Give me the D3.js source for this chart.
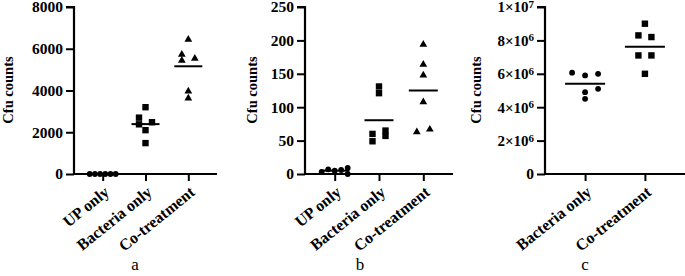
<!DOCTYPE html>
<html>
<head>
<meta charset="utf-8">
<script src="https://cdn.jsdelivr.net/npm/d3@7"></script>
<style>
  html, body { margin: 0; padding: 0; background: #fff; }
  svg text { font-family: "Times New Roman", "Liberation Serif", serif; fill: #000; }
</style>
</head>
<body>
<svg id="chart" width="685" height="276"></svg>
<script>
// Panel a: colony counts
const catsA = ["UP only", "Bacteria only", "Co-treatment"];
const upOnlyA = [0, 0, 0, 0, 0, 0];
const bacteriaA = [3200, 2700, 2480, 2380, 2100, 1480];
const cotreatA = [6480, 5760, 5480, 5570, 4000, 3670];
const ticksA = [0, 2000, 4000, 6000, 8000];

// Panel b
const catsB = ["UP only", "Bacteria only", "Co-treatment"];
const upOnlyB = [3, 7, 5, 6, 9, 0];
const bacteriaB = [131, 121, 60, 49, 65, 57];
const cotreatB = [195, 165, 149, 109, 64, 68];
const ticksB = [0, 50, 100, 150, 200, 250];

// Panel c
const catsC = ["Bacteria only", "Co-treatment"];
const bacteriaC = [6.07e6, 5.9e6, 6.0e6, 4.9e6, 5.1e6, 4.5e6];
const cotreatC = [9.0e6, 8.3e6, 8.2e6, 7.1e6, 7.1e6, 6.0e6];
const ticksC = [0, 2e6, 4e6, 6e6, 8e6, 1e7];

// column index of each point inside its group (scatter-dot spreading)
const lanesUpA = [-2, -1.2, -0.4, 0.4, 1.2, 2];
const lanesBacA = [0, -1, 1, -1, 0, 0];
const lanesCoA = [0, -1, -1, 1, 0, 0];
const lanesUpB = [-2, -1, 0, 1, 2, 2];
const lanesBacB = [0, 0, -1, -1, 1, 1];
const lanesCoB = [0, 0, 0, 0, -1, 1];
const lanesBacC = [-2, 0, 2, 0, 2, 0];
const lanesCoC = [0, -1, 1, -1, 1, 0];

const svg = d3.select("#chart");
const top0 = 7, bottom0 = 174;

function drawPanel(p) {
    const g = svg.append("g");
    const x = d3.scalePoint().domain(p.cats).range([p.left, p.right]).padding(0.67);
    const y = d3.scaleLinear().domain([0, p.max]).range([bottom0, top0]);

    // y axis
    const yAxis = g.append("g")
        .attr("transform", `translate(${p.left},0)`)
        .call(d3.axisLeft(y).tickValues(p.ticks).tickSize(8).tickPadding(3).tickFormat(p.fmt || d3.format("d")));
    yAxis.select(".domain").attr("stroke-width", 2.2).attr("d", `M${-8},${top0}H0V${bottom0}`);
    yAxis.selectAll(".tick line").attr("stroke-width", 2);
    yAxis.selectAll(".tick text")
        .style("font-size", "15.5px").style("font-weight", "bold");

    if (p.sci) {
        yAxis.selectAll(".tick text").each(function(d) {
            const t = d3.select(this).text("");
            if (d === 0) { t.text("0"); return; }
            const e = Math.floor(Math.log10(d) + 1e-9);
            const m = Math.round(d / Math.pow(10, e));
            t.append("tspan").style("font-size", "15px").text(m + "\u00d710");
            t.append("tspan").attr("dy", "-0.4em").style("font-size", "11px").text(e);
        });
    }

    // x axis
    const xAxis = g.append("g")
        .attr("transform", `translate(0,${bottom0})`)
        .call(d3.axisBottom(x).tickSize(7).tickPadding(0));
    xAxis.select(".domain").attr("stroke-width", 2.2).attr("d", `M${p.left},0H${p.right}`);
    xAxis.selectAll(".tick line").attr("stroke-width", 2);
    xAxis.selectAll(".tick text")
        .attr("text-anchor", "end")
        .attr("transform", "translate(7,20) rotate(-39)")
        .attr("y", 0).attr("dy", 0)
        .style("font-size", "16px").style("font-weight", "bold");

    // y label
    g.append("text")
        .attr("transform", `translate(${p.ylabX},90) rotate(-90)`)
        .attr("text-anchor", "middle")
        .style("font-size", "14.5px").style("font-weight", "bold")
        .text("Cfu counts");

    // panel letter
    g.append("text")
        .attr("x", p.letterX).attr("y", 270)
        .attr("text-anchor", "middle")
        .style("font-size", "17px")
        .text(p.letter);

    const unit = 6.5;
    p.groups.forEach(grp => {
        const cx = x(grp.cat);
        const pts = grp.values.map((v, i) => ({ v, lane: grp.lanes[i] }));
        const gg = g.append("g");
        pts.forEach(d => {
            const px = cx + d.lane * unit, py = y(d.v);
            if (grp.shape === "circle") {
                gg.append("circle").attr("cx", px).attr("cy", py).attr("r", 2.9).attr("fill", "#000");
            } else if (grp.shape === "square") {
                gg.append("rect").attr("x", px - 3.2).attr("y", py - 3.2).attr("width", 6.4).attr("height", 6.4).attr("fill", "#000");
            } else {
                gg.append("path")
                    .attr("d", d3.symbol().type(d3.symbolTriangle).size(26)())
                    .attr("transform", `translate(${px},${py + 0.8})`)
                    .attr("fill", "#000");
            }
        });
        const mean = d3.mean(grp.values);
        gg.append("line")
            .attr("x1", cx - p.meanHalf).attr("x2", cx + p.meanHalf)
            .attr("y1", y(mean)).attr("y2", y(mean))
            .attr("stroke", "#000").attr("stroke-width", 2);
    });
}

drawPanel({
    left: 74, right: 217, max: 8000, ticks: ticksA, cats: catsA,
    ylabX: 13, letter: "a", letterX: 135, meanHalf: 14,
    groups: [
        { cat: catsA[0], values: upOnlyA, lanes: lanesUpA, shape: "circle" },
        { cat: catsA[1], values: bacteriaA, lanes: lanesBacA, shape: "square" },
        { cat: catsA[2], values: cotreatA, lanes: lanesCoA, shape: "triangle" }
    ]
});

drawPanel({
    left: 305, right: 453, max: 250, ticks: ticksB, cats: catsB,
    ylabX: 257, letter: "b", letterX: 360, meanHalf: 14.5,
    groups: [
        { cat: catsB[0], values: upOnlyB, lanes: lanesUpB, shape: "circle" },
        { cat: catsB[1], values: bacteriaB, lanes: lanesBacB, shape: "square" },
        { cat: catsB[2], values: cotreatB, lanes: lanesCoB, shape: "triangle" }
    ]
});

drawPanel({
    left: 545, right: 685, max: 1e7, ticks: ticksC, cats: catsC, sci: true,
    ylabX: 481, letter: "c", letterX: 585, meanHalf: 20,
    groups: [
        { cat: catsC[0], values: bacteriaC, lanes: lanesBacC, shape: "circle" },
        { cat: catsC[1], values: cotreatC, lanes: lanesCoC, shape: "square" }
    ]
});
</script>
</body>
</html>
